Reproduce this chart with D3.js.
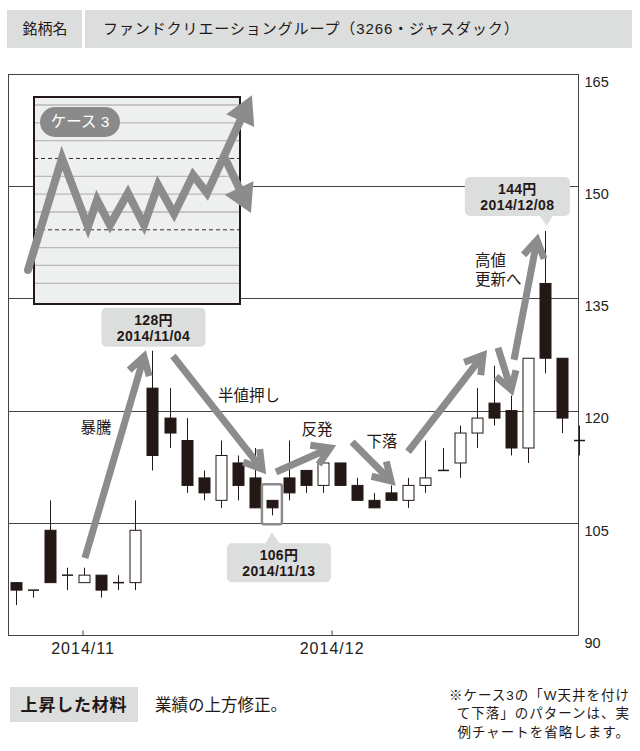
<!DOCTYPE html>
<html><head><meta charset="utf-8">
<script src="https://cdn.jsdelivr.net/npm/d3@7/dist/d3.min.js"></script>
<style>
html,body{margin:0;padding:0;background:#fff;}
svg{display:block;font-family:"Liberation Sans","Noto Sans CJK JP",sans-serif;}
</style></head>
<body>
<svg id="c" width="640" height="751"></svg>
<script>
// ---- data ----
const dates = ["10/22","10/23","10/24","10/27","10/28","10/29","10/30","10/31","11/04","11/05","11/06","11/07","11/10","11/11","11/12","11/13","11/14","11/17","11/18","11/19","11/20","11/21","11/25","11/26","11/27","11/28","12/01","12/02","12/03","12/04","12/05","12/08","12/09","12/10"];
const open  = [97, 96,104, 98, 97, 98, 97, 97,123,119,116,111,108,113,111,108,111,112,110,113,110,108,109,108,110,112,113,117,121,120,115,137,127,116];
const high  = [97, 96,108, 99, 99, 98, 98,108,128,123,119,112,116,114,115,108,116,112,113,113,111,109,110,111,116,115,118,123,126,122,127,144,127,118];
const low   = [94, 95, 97, 96, 97, 95, 96, 96,112,115,109,108,107,108,107,106,108,109,109,110,108,107,108,107,109,112,111,115,118,114,113,125,117,114];
const close = [96, 96, 97, 98, 98, 96, 97,104,114,117,110,109,114,110,107,107,109,110,113,110,108,107,108,110,111,112,117,119,119,115,127,127,119,116];
const yTicks = [90,105,120,135,150,165];
const xTickLabels = ["2014/11","2014/12"];
const xTickPos = [3.9, 18.5];
const headerLabel = "銘柄名";
const headerName = "ファンドクリエーショングループ（3266・ジャスダック）";
const footLabel = "上昇した材料";
const footText = "業績の上方修正。";
const noteLines = ["※ケース3の「W天井を付け","て下落」のパターンは、実","例チャートを省略します。"];
// annotation arrows in (index, price)
const arrows = [
  {from:[4.04,100.3], to:[7.50,127.2]},
  {from:[9.20,127.3], to:[14.42,112.2]},
  {from:[15.24,111.8], to:[18.41,115.0]},
  {from:[19.70,115.8], to:[21.98,110.6]},
  {from:[22.98,114.5], to:[27.37,127.4]},
  {from:[28.25,128.4], to:[29.02,122.8]},
  {from:[29.19,126.8], to:[30.54,142.8]}
];
const notes = [
  {text:["暴騰"], at:[4.69,117.7], anchor:"middle"},
  {text:["半値押し"], at:[13.66,122.0], anchor:"middle"},
  {text:["反発"], at:[17.64,117.5], anchor:"middle"},
  {text:["下落"], at:[21.45,115.9], anchor:"middle"},
  {text:["高値","更新へ"], at:[26.9,140.0], anchor:"start"}
];
const callouts = [
  {idx:8,  price:"128円", date:"2014/11/04", side:"above", pointer:false},
  {idx:15, price:"106円", date:"2014/11/13", side:"below", pointer:true},
  {idx:31, price:"144円", date:"2014/12/08", side:"above", pointer:true}
];
// inset schematic (local units)
const insetCaption = "ケース 3";
const insetLevels = d3.range(0,11);
const insetDashed = [3,7];
const zigzag = [[-0.29,0.75],[1.36,7.02],[2.62,3.16],[3.06,4.67],[3.69,3.27],[4.56,5.06],[5.34,3.27],[6.02,5.51],[6.80,3.89],[7.72,6.07],[8.40,5.06],[9.27,7.02]];
const insetUpTip = [10.58,10.55];
const insetDownTip = [10.53,3.94];

// ---- drawing ----
const ink = "#231815", gray = "#8c8c8c", band = "#dcdddd";
const svg = d3.select("#c");
const L = 8, R = 578.5, T = 74, B = 635;
const x = d3.scaleLinear().domain([0, dates.length-1]).range([16, 579]);
const y = d3.scaleLinear().domain([90,165]).range([B, T]);

// header
svg.append("rect").attr("x",7).attr("y",10).attr("width",75).attr("height",38).attr("fill",band);
svg.append("rect").attr("x",85).attr("y",10).attr("width",547).attr("height",38).attr("fill",band);
svg.append("text").attr("x",45).attr("y",29).attr("dy","0.35em").attr("text-anchor","middle")
  .attr("font-size",15).attr("fill",ink).text(headerLabel);
svg.append("text").attr("x",103).attr("y",29).attr("dy","0.35em")
  .attr("font-size",15).attr("letter-spacing","0.9px").attr("fill",ink).text(headerName);

// grid + frame
svg.append("g").selectAll("line").data(yTicks).join("line")
  .attr("x1",L).attr("x2",R).attr("y1",d=>Math.round(y(d))+0.5).attr("y2",d=>Math.round(y(d))+0.5)
  .attr("stroke","#444").attr("stroke-width",1);
svg.append("line").attr("x1",L+0.5).attr("x2",L+0.5).attr("y1",T).attr("y2",B+0.5).attr("stroke","#444");
svg.append("line").attr("x1",R).attr("x2",R).attr("y1",T).attr("y2",B+0.5).attr("stroke","#444");

// y axis labels
const ya = svg.append("g").attr("transform",`translate(${R},0.5)`)
  .call(d3.axisRight(y).tickValues(yTicks).tickSize(0).tickPadding(6));
ya.select(".domain").remove();
ya.selectAll("text").attr("dy","0.82em").attr("font-size",14.5).attr("fill","#222")
  .attr("font-family",'"Liberation Sans",sans-serif');

// x axis
const xa = svg.append("g").attr("transform",`translate(0,${B+0.5})`)
  .call(d3.axisBottom(x).tickValues(xTickPos).tickFormat((d,i)=>xTickLabels[i]).tickSizeInner(-5).tickSizeOuter(0).tickPadding(7));
xa.select(".domain").remove();
xa.selectAll("line").attr("stroke","#444");
xa.selectAll("text").attr("font-size",16).attr("letter-spacing","1px").attr("fill","#222").attr("font-family",'"Liberation Sans",sans-serif');

// inset
const IB = {x:34, y:97, w:206, h:207};
const ix = d3.scaleLinear().domain([0,10]).range([IB.x, IB.x+206]);
const iy = d3.scaleLinear().domain([0,10]).range([283.3, 105]);
const ins = svg.append("g");
ins.append("rect").attr("x",IB.x).attr("y",IB.y).attr("width",IB.w).attr("height",IB.h).attr("fill","#eef0ef");
ins.selectAll("line.lv").data(insetLevels.filter(l=>!insetDashed.includes(l))).join("line")
  .attr("x1",IB.x).attr("x2",IB.x+IB.w).attr("y1",d=>iy(d)).attr("y2",d=>iy(d))
  .attr("stroke","#b9b9b9").attr("stroke-width",1.3);
ins.selectAll("line.ds").data(insetDashed).join("line")
  .attr("x1",IB.x).attr("x2",IB.x+IB.w).attr("y1",d=>iy(d)).attr("y2",d=>iy(d))
  .attr("stroke","#333").attr("stroke-width",1).attr("stroke-dasharray","4,3");
ins.append("rect").attr("x",IB.x).attr("y",IB.y).attr("width",IB.w).attr("height",IB.h)
  .attr("fill","none").attr("stroke",ink).attr("stroke-width",2);
// caption pill
ins.append("rect").attr("x",40).attr("y",107).attr("width",80).attr("height",30).attr("rx",15).attr("fill","#8a8a8a");
ins.append("text").attr("x",80).attr("y",122).attr("dy","0.35em").attr("text-anchor","middle")
  .attr("fill","#fff").attr("font-size",15.5).text(insetCaption);
// zigzag
const ipt = p => [ix(p[0]), iy(p[1])];
const zpts = zigzag.map(ipt);
const upTip = ipt(insetUpTip), dnTip = ipt(insetDownTip);
const head = (from, tip, len, ang) => {
  const dx = from[0]-tip[0], dy = from[1]-tip[1], a = Math.atan2(dy,dx);
  return [[tip[0]+len*Math.cos(a+ang), tip[1]+len*Math.sin(a+ang)], tip, [tip[0]+len*Math.cos(a-ang), tip[1]+len*Math.sin(a-ang)]];
};
const line = d3.line();
const pre = zpts[zpts.length-2];
const shaftEnd = (from, tip, back) => {
  const dx = from[0]-tip[0], dy = from[1]-tip[1], d = Math.hypot(dx,dy);
  return [tip[0]+dx/d*back, tip[1]+dy/d*back];
};
ins.append("path").attr("d", line(zpts.slice(0,-1).concat([shaftEnd(pre, upTip, 20)])))
  .attr("fill","none").attr("stroke",gray).attr("stroke-width",8).attr("stroke-linejoin","miter").attr("stroke-linecap","round");
const junction = zpts[zpts.length-1];
ins.append("path").attr("d", line([junction, shaftEnd(junction, dnTip, 20)]))
  .attr("fill","none").attr("stroke",gray).attr("stroke-width",8);
ins.append("path").attr("d", line(head(pre, upTip, 32, 0.5))+"Z").attr("fill",gray);
ins.append("path").attr("d", line(head(junction, dnTip, 32, 0.52))+"Z").attr("fill",gray);

// candles
const bw = 11;
const cg = svg.append("g");
dates.forEach((d,i)=>{
  const cx = Math.round(x(i))+0.5;
  const up = close[i] >= open[i];
  cg.append("line").attr("x1",cx).attr("x2",cx).attr("y1",y(high[i])).attr("y2",y(low[i])).attr("stroke",ink).attr("stroke-width",1);
  if (open[i] === close[i]) {
    cg.append("line").attr("x1",cx-bw/2).attr("x2",cx+bw/2).attr("y1",y(open[i])).attr("y2",y(open[i])).attr("stroke",ink).attr("stroke-width",1.5);
  } else {
    const top = y(Math.max(open[i],close[i])), bot = y(Math.min(open[i],close[i]));
    cg.append("rect").attr("x",cx-bw/2).attr("y",top).attr("width",bw).attr("height",bot-top)
      .attr("fill", up ? "#fff" : ink).attr("stroke",ink).attr("stroke-width",1);
  }
});

// highlight box around low candle
const lowIdx = 15;
svg.append("rect").attr("x",x(lowIdx)-10).attr("y",y(high[lowIdx])-16).attr("width",20)
  .attr("height",(y(low[lowIdx])+9)-(y(high[lowIdx])-16)).attr("rx",2)
  .attr("fill","none").attr("stroke",gray).attr("stroke-width",2.5);

// arrows
const ag = svg.append("g");
arrows.forEach(a=>{
  const s = [x(a.from[0]), y(a.from[1])], t = [x(a.to[0]), y(a.to[1])];
  ag.append("path").attr("d", line([s,t]))
    .attr("fill","none").attr("stroke",gray).attr("stroke-width",7);
  ag.append("path").attr("d", line(head(s,t,20,0.55)))
    .attr("fill","none").attr("stroke",gray).attr("stroke-width",7).attr("stroke-linejoin","miter").attr("stroke-miterlimit",6);
});

// notes
notes.forEach(n=>{
  n.text.forEach((t,k)=>{
    svg.append("text").attr("x",x(n.at[0])).attr("y",y(n.at[1])+k*19).attr("dy","0.35em")
      .attr("text-anchor",n.anchor).attr("font-size",15.5).attr("fill",ink).text(t);
  });
});

// callouts
callouts.forEach(c=>{
  const cx = x(c.idx);
  let bx, by, bwid=104, bh=39;
  const g = svg.append("g");
  if (c.idx===8) { bx = cx-51; by = y(high[c.idx])-43; }
  else if (c.side==="below") { bx = cx-45; by = y(low[c.idx])+28; }
  else { bx = cx-80; by = y(high[c.idx])-54; bwid=105; }
  g.append("rect").attr("x",bx).attr("y",by).attr("width",bwid).attr("height",bh).attr("rx",5).attr("fill",band);
  if (c.pointer) {
    if (c.side==="below") {
      g.append("path").attr("d", line([[cx-7,by+1],[cx,by-11],[cx+8,by+1]])+"Z").attr("fill",band);
    } else {
      g.append("path").attr("d", line([[cx-6,by+bh-1],[cx+2,by+bh+10],[cx+8,by+bh-1]])+"Z").attr("fill",band);
    }
  }
  g.append("text").attr("x",bx+bwid/2).attr("y",by+12).attr("dy","0.35em").attr("text-anchor","middle")
    .attr("font-size",14).attr("font-weight","bold").attr("letter-spacing","0.3px").attr("fill",ink).text(c.price);
  g.append("text").attr("x",bx+bwid/2).attr("y",by+28).attr("dy","0.35em").attr("text-anchor","middle")
    .attr("font-size",14).attr("font-weight","bold").attr("letter-spacing","0.4px").attr("fill",ink).text(c.date);
});

// footer
svg.append("rect").attr("x",10).attr("y",687).attr("width",128).attr("height",35).attr("fill",band);
svg.append("text").attr("x",74).attr("y",705).attr("dy","0.35em").attr("text-anchor","middle")
  .attr("font-size",17).attr("font-weight","bold").attr("letter-spacing","0.8px").attr("fill",ink).text(footLabel);
svg.append("text").attr("x",155).attr("y",705).attr("dy","0.35em")
  .attr("font-size",16.5).attr("fill",ink).text(footText);
noteLines.forEach((t,k)=>{
  svg.append("text").attr("x",630).attr("y",[695,713,732][k]).attr("dy","0.35em").attr("text-anchor","end")
    .attr("font-size",13.5).attr("letter-spacing","1px").attr("fill",ink).text(t);
});
</script>
</body></html>
